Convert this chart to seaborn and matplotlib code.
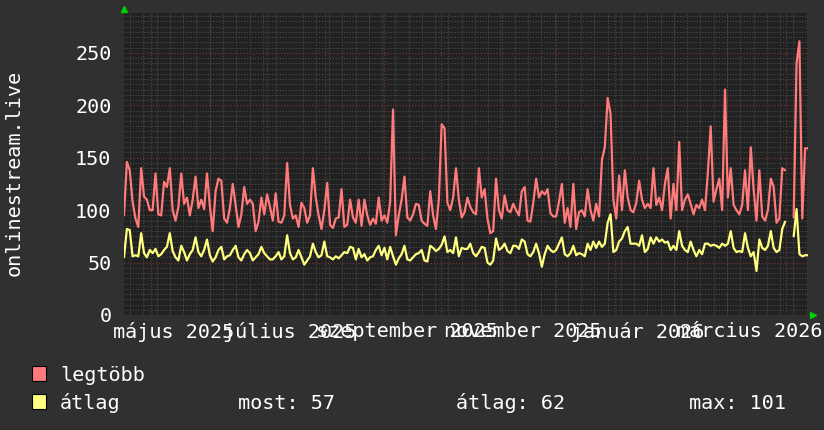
import numpy as np
import pandas as pd
import seaborn as sns
import matplotlib.pyplot as plt
import matplotlib.dates as mdates
from matplotlib.patches import Rectangle

# values (one point every ~1.5 days)
legtobb = [95, 146, 138, 108, 92, 84, 140, 113, 110, 100, 100, 135, 96, 95, 127, 122, 140, 100, 90, 103,
           135, 106, 112, 95, 110, 132, 102, 110, 101, 135, 104, 80, 118, 130,
           128, 92, 88, 102, 125, 105, 84, 96, 122, 106, 110, 106, 80, 89, 112, 96, 115, 103, 90, 116,
           89, 88, 95, 145, 105, 92, 95, 84, 107, 102, 88, 95, 140, 112,
           95, 82, 100, 126, 86, 83, 92, 93, 120, 84, 86, 110, 93, 88, 110, 85, 110, 95, 86, 92,
           87, 112, 90, 95, 88, 108, 196, 76, 95, 110, 132, 93, 90, 96,
           106, 105, 90, 87, 85, 118, 95, 82, 110, 182, 178, 107, 100, 112, 140, 110, 93, 98, 112, 103,
           98, 96, 140, 112, 120, 92, 78, 80, 130, 100, 92, 114, 100, 98, 106,
           100, 95, 118, 122, 90, 89, 107, 130, 112, 118, 115, 120, 97, 94, 94, 108, 125, 88, 102, 84,
           125, 82, 98, 100, 94, 120, 100, 90, 106, 94, 148, 160, 207, 192,
           110, 92, 133, 100, 138, 112, 100, 98, 107, 128, 110, 102, 106, 102, 140, 105, 112, 100, 125, 140,
           92, 125, 100, 165, 100, 110, 115, 106, 96, 105, 102, 110, 100, 135,
           180, 108, 120, 130, 100, 215, 112, 140, 105, 100, 96, 105, 138, 100, 160, 120, 90, 138, 94, 90,
           100, 130, 122, 88, 92, 140, 138, np.nan, np.nan, 93, 240, 261, 92, 159, 159]
atlag = [55, 82, 81, 56, 57, 56, 78, 59, 55, 62, 59, 63, 56, 58, 62, 65, 78, 61, 55, 52,
         66, 60, 52, 58, 62, 74, 60, 56, 62, 72, 57, 51, 55, 62,
         65, 53, 56, 57, 62, 66, 55, 52, 58, 62, 59, 52, 55, 58, 65, 59, 56, 53, 53, 56,
         60, 53, 56, 76, 59, 53, 55, 62, 55, 48, 52, 56, 68, 60,
         55, 57, 70, 56, 55, 53, 56, 54, 57, 60, 59, 65, 64, 53, 63, 55, 58, 52, 55, 56,
         62, 66, 57, 64, 53, 65, 56, 48, 54, 58, 66, 53, 52, 55,
         58, 59, 62, 52, 51, 66, 64, 61, 63, 67, 75, 60, 62, 59, 74, 56, 64, 63, 63, 68,
         59, 56, 60, 65, 64, 50, 48, 52, 73, 62, 64, 68, 61, 59, 66,
         66, 63, 72, 70, 58, 56, 60, 68, 59, 46, 58, 66, 62, 60, 62, 68, 74, 58, 56, 59,
         66, 57, 59, 58, 56, 68, 62, 70, 64, 70, 65, 68, 88, 96,
         60, 62, 70, 73, 80, 84, 68, 68, 68, 66, 76, 60, 63, 74, 68, 74, 70, 72, 69, 70,
         62, 66, 62, 80, 66, 62, 60, 70, 62, 56, 62, 58, 68, 68,
         66, 67, 66, 64, 68, 66, 68, 80, 64, 60, 61, 60, 78, 64, 56, 60, 42, 72, 64, 62,
         66, 80, 64, 60, 62, 82, 89, np.nan, np.nan, 75, 101, 58, 56, 57, 57]

month_labels = ["május 2025", "július 2025", "szeptember 2025",
                "november 2025", "január 2026", "március 2026"]
label_dates = ["2025-05-13", "2025-07-13", "2025-09-13",
               "2025-11-13", "2026-01-13", "2026-03-13"]
y_ticks = [0, 50, 100, 150, 200, 250]
stats = ["most: 57", "átlag: 62", "max: 101"]

red = "#ff7b7b"
yellow = "#ffff80"
bg = "#303030"
plot_bg = "#212121"

sns.set_theme(style="dark")
plt.rcParams["font.family"] = ["DejaVu Sans Mono", "DejaVu Sans"]

start = pd.Timestamp("2025-04-16 18:00")
end = pd.Timestamp("2026-04-12 18:00")
df = pd.DataFrame({"date": pd.date_range(start, end, periods=len(legtobb)),
                   "legtobb": legtobb, "atlag": atlag})
df["seg"] = df["legtobb"].isna().cumsum()

fig = plt.figure(figsize=(8.24, 4.30), dpi=100, facecolor=bg)
ax = fig.add_axes([124 / 824, 1 - 315 / 430, 684 / 824, 302 / 430])
ax.set_facecolor(plot_bg)

# grid
ax.set_ylim(0, 288)
ax.set_xlim(start, end)
ax.set_yticks(y_ticks)
ax.set_yticks(np.arange(0, 290, 5), minor=True)
ax.xaxis.set_minor_locator(mdates.WeekdayLocator(byweekday=mdates.SU))
ax.grid(which="minor", axis="both", color="#4a4a4a", linestyle=(0, (1, 1.5)), lw=0.8)
ax.grid(which="major", axis="y", color="#6e3434", linestyle=(0, (1, 1.5)), lw=0.9)
ax.grid(which="major", axis="x", visible=False)
for m in pd.date_range("2025-05-01", "2026-04-01", freq="MS"):
    ax.axvline(m, color="#6e3434", linestyle=(0, (1, 1.5)), lw=0.9, zorder=0.5)
ax.set_axisbelow(True)

sns.lineplot(data=df, x="date", y="legtobb", units="seg", estimator=None,
             color=red, lw=1.6, ax=ax)
sns.lineplot(data=df, x="date", y="atlag", units="seg", estimator=None,
             color=yellow, lw=1.6, ax=ax)

ax.set_xticks(pd.to_datetime(label_dates), month_labels)
ax.tick_params(axis="both", which="major", length=0, colors="white", labelsize=14.5)
ax.tick_params(axis="x", which="major", pad=5)
ax.tick_params(axis="y", which="major", pad=9)
ax.tick_params(which="minor", length=0)
ax.set_xlabel("")
ax.set_ylabel("")
for s in ax.spines.values():
    s.set_visible(False)

# rrdtool style arrows
ax.plot([0], [1.012], marker="^", color="#00d000", ms=5, transform=ax.transAxes, clip_on=False)
ax.plot([1.007], [0], marker=">", color="#00d000", ms=5, transform=ax.transAxes, clip_on=False)

fig.text(14 / 824, 1 - 173 / 430, "onlinestream.live", rotation=90, color="white",
         fontsize=14.5, ha="center", va="center")

# legend
fig.patches.append(Rectangle((32 / 824, 1 - 381 / 430), 14 / 824, 15 / 430,
                             transform=fig.transFigure, facecolor=red, edgecolor="black", lw=0.8))
fig.patches.append(Rectangle((32 / 824, 1 - 409 / 430), 14 / 824, 15 / 430,
                             transform=fig.transFigure, facecolor=yellow, edgecolor="black", lw=0.8))
fig.text(60 / 824, 1 - 381 / 430, "legtöbb", color="white", fontsize=14.5, va="baseline")
fig.text(60 / 824, 1 - 409 / 430, "átlag", color="white", fontsize=14.5, va="baseline")
for xpos, s in zip([238, 456, 689], stats):
    fig.text(xpos / 824, 1 - 409 / 430, s, color="white", fontsize=14.5, va="baseline")

fig.savefig("out.png", dpi=100, facecolor=bg)
